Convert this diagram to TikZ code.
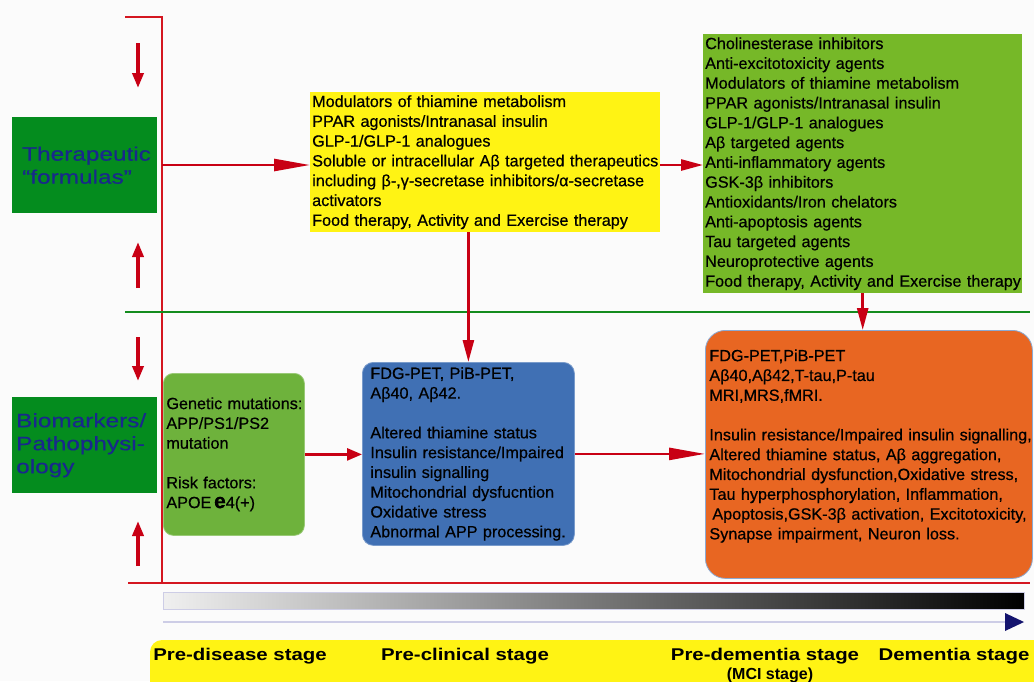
\documentclass[tikz,border=0pt]{standalone}
\usepackage{fontspec}
\setmainfont{Liberation Sans}
\newfontfamily\bodyfont[FakeBold=0.5]{Liberation Sans}
\newfontfamily\labfont[FakeStretch=1.25,FakeBold=0.4]{Liberation Sans}
\newfontfamily\stagefont[FakeStretch=1.2]{Liberation Sans}
\usetikzlibrary{arrows.meta}
\definecolor{bgc}{RGB}{251,251,251}
\definecolor{axred}{RGB}{212,22,32}
\definecolor{arrred}{RGB}{200,0,20}
\definecolor{lineg}{RGB}{20,140,30}
\definecolor{labgreen}{RGB}{4,140,30}
\definecolor{labblue}{RGB}{25,40,140}
\definecolor{yelc}{RGB}{255,243,20}
\definecolor{rgreen}{RGB}{118,184,40}
\definecolor{gengreen}{RGB}{110,178,60}
\definecolor{bluec}{RGB}{64,112,180}
\definecolor{orangec}{RGB}{232,102,34}
\definecolor{lav}{RGB}{205,205,230}
\definecolor{navyc}{RGB}{20,20,110}
\newcommand{\bodyfs}{\bodyfont\fontsize{16.2}{19.8}\selectfont}
\newcommand{\labfs}{\labfont\fontsize{19.5}{23}\selectfont}
\newcommand{\stfs}{\stagefont\bfseries\fontsize{17}{19}\selectfont}
\newcommand{\ml}[1]{\mbox{#1}}
\begin{document}
\begin{tikzpicture}[x=1pt,y=-1pt,
  box/.style={anchor=north west, inner ysep=0pt, align=left, font=\bodyfs, text=black},
  lab/.style={anchor=north west, fill=labgreen, minimum width=145, minimum height=96,
    inner xsep=4pt, inner ysep=0pt, text width=137, align=left, text=labblue, font=\labfs},
  axis/.style={draw=axred, line width=2.4pt},
  arr/.style={draw=arrred, fill=arrred, line width=2.6pt},
  longtip/.style={-{Triangle[length=36pt,width=12pt]}},
  midtip/.style={-{Triangle[length=22pt,width=11pt]}},
  shorttip/.style={-{Triangle[length=15pt,width=12pt]}},
  vtip/.style={draw=arrred, line width=3.6pt, -{Triangle[length=15pt,width=11pt]}},
  stage/.style={font=\stfs, text=black, inner sep=0pt}
]
\useasboundingbox (0,0) rectangle (1034,681);
\fill[bgc] (0,0) rectangle (1034,681);

% frame lines
\coordinate (tick) at (125,17);
\coordinate (axtop) at (162,17);
\coordinate (axbot) at (162,583);
\coordinate (bl) at (128,583);
\coordinate (br) at (1030,583);
\coordinate (gl) at (125,312);
\coordinate (gr) at (1030,312);
\draw[axis] (tick) -- (axtop) -- (axbot);
\draw[axis] (bl) -- (br);
\draw[draw=lineg, line width=2pt] (gl) -- (gr);

% small vertical arrows
\coordinate (v1a) at (138,43);  \coordinate (v1b) at (138,88);
\coordinate (v2a) at (138,288); \coordinate (v2b) at (138,242);
\coordinate (v3a) at (138,337); \coordinate (v3b) at (138,381);
\coordinate (v4a) at (138,566); \coordinate (v4b) at (138,521);
\draw[vtip] (v1a) -- (v1b);
\draw[vtip] (v2a) -- (v2b);
\draw[vtip] (v3a) -- (v3b);
\draw[vtip] (v4a) -- (v4b);

% row labels
\node[lab] (thera) at (12,117) {\hspace*{6pt}Therapeutic\\\hspace*{6pt}“formulas”};
\node[lab] (bio) at (12,397) {Biomarkers/\\Pathophysi-\\ology};

% therapy boxes
\node[box, fill=yelc, minimum width=350, minimum height=140, inner xsep=2pt, text width=346] (yel) at (310,92)
{\ml{Modulators of thiamine metabolism}\\
\ml{PPAR agonists/Intranasal insulin}\\
\ml{GLP-1/GLP-1 analogues}\\
\ml{Soluble or intracellular Aβ targeted therapeutics}\\
\ml{including β-,γ-secretase inhibitors/α-secretase}\\
\ml{activators}\\
\ml{Food therapy, Activity and Exercise therapy}};

\node[box, fill=rgreen, minimum width=319, minimum height=259, inner xsep=2pt, text width=315] (grn) at (703,34)
{\ml{Cholinesterase inhibitors}\\
\ml{Anti-excitotoxicity agents}\\
\ml{Modulators of thiamine metabolism}\\
\ml{PPAR agonists/Intranasal insulin}\\
\ml{GLP-1/GLP-1 analogues}\\
\ml{Aβ targeted agents}\\
\ml{Anti-inflammatory agents}\\
\ml{GSK-3β inhibitors}\\
\ml{Antioxidants/Iron chelators}\\
\ml{Anti-apoptosis agents}\\
\ml{Tau targeted agents}\\
\ml{Neuroprotective agents}\\
\ml{Food therapy, Activity and Exercise therapy}};

% biomarker boxes
\node[box, fill=gengreen, draw=gengreen!70!white, line width=0.8pt, rounded corners=10pt,
  minimum width=141, minimum height=162, inner xsep=3pt, text width=135] (gen) at (163,373)
{\ml{Genetic mutations:}\\
\ml{APP/PS1/PS2}\\
\ml{mutation}\\[19.8pt]
\ml{Risk factors:}\\
\ml{APOE\,{\fontsize{21}{19.8}\selectfont\bfseries e}4(+)}};

\node[box, fill=bluec, draw=bluec!70!white, line width=0.8pt, rounded corners=11pt,
  minimum width=212, minimum height=183, inner xsep=8pt, text width=196] (blue) at (362,362)
{\ml{FDG-PET, PiB-PET,}\\
\ml{Aβ40, Aβ42.}\\[19.8pt]
\ml{Altered thiamine status}\\
\ml{Insulin resistance/Impaired}\\
\ml{insulin signalling}\\
\ml{Mitochondrial dysfucntion}\\
\ml{Oxidative stress}\\
\ml{Abnormal APP processing.}};

\node[box, fill=orangec, draw=bluec!60!white, line width=0.8pt, rounded corners=20pt,
  minimum width=327, minimum height=248, inner xsep=4pt, text width=319] (org) at (705,330)
{\ml{FDG-PET,PiB-PET}\\
\ml{Aβ40,Aβ42,T-tau,P-tau}\\
\ml{MRI,MRS,fMRI.}\\[19.8pt]
\ml{Insulin resistance/Impaired insulin signalling,}\\
\ml{Altered thiamine status, Aβ aggregation,}\\
\ml{Mitochondrial dysfunction,Oxidative stress,}\\
\ml{Tau hyperphosphorylation, Inflammation,}\\
\ml{\hspace*{3pt}Apoptosis,GSK-3β activation, Excitotoxicity,}\\
\ml{Synapse impairment, Neuron loss.}\rule[-20pt]{0pt}{20pt}};

% connectors
\coordinate (ax1) at (162,165);
\draw[arr, longtip] (ax1) -- (ax1 -| yel.west);
\draw[arr, midtip] (ax1 -| yel.east) -- (ax1 -| grn.west);
\draw[arr, midtip] (blue.north |- yel.south) -- (blue.north);
\draw[arr, midtip] (grn.south) -- (grn.south |- org.north);
\draw[arr, shorttip] (gen.east) -- (gen.east -| blue.west);
\draw[arr, longtip] (blue.east) -- (blue.east -| org.west);

% progression bar
\coordinate (gb1) at (163,592);
\coordinate (gb2) at (1024,609);
\shade[left color=white!94!black, right color=black] (gb1) rectangle (gb2);
\draw[draw=lav, line width=0.8pt] (gb1) rectangle (gb2);

% timeline arrow
\coordinate (ta) at (163,622);
\coordinate (tb) at (1008,622);
\draw[draw=lav, line width=2pt] (ta) -- (tb);
\fill[navyc] (1005,613) -- (1024,622) -- (1005,631) -- cycle;

% stage bar
\fill[yelc, rounded corners=12pt] (150,640) rectangle (1050,700);
\node[stage] (s1) at (240,656) {Pre-disease stage};
\node[stage] (s2) at (465,656) {Pre-clinical stage};
\node[stage] (s3) at (765,656) {Pre-dementia stage};
\node[stage, font=\bfseries\fontsize{16}{18}\selectfont] (s3b) at (770,675) {(MCI stage)};
\node[stage] (s4) at (954,656) {Dementia stage};
\end{tikzpicture}
\end{document}
